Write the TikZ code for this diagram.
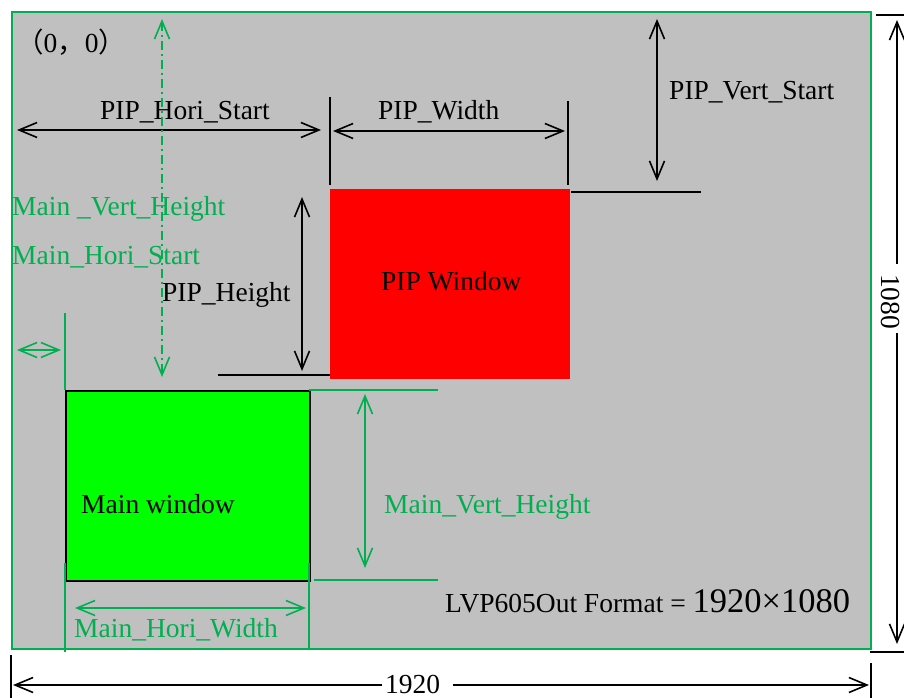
\documentclass[tikz,border=0pt]{standalone}
\usepackage{fontspec}
\setmainfont{Liberation Serif}
\newfontfamily\cjk{Noto Sans CJK SC}
\usetikzlibrary{arrows.meta}
\definecolor{gline}{HTML}{00B050}
\definecolor{bggray}{HTML}{C0C0C0}
\definecolor{mainfill}{HTML}{00FF00}
\begin{document}
\begin{tikzpicture}[x=1pt,y=-1pt,
  every node/.style={inner sep=0pt, font=\fontsize{27.5}{32}\selectfont},
  barb/.tip={Straight Barb[length=18pt,width=15pt]},
  ln/.style={line width=1.6pt, black},
  gl/.style={line width=1.6pt, gline},
  dimb/.style={ln, barb-barb},
  dimg/.style={gl, barb-barb},
  lbl/.style={anchor=base west, text=black},
  glbl/.style={anchor=base west, text=gline}]
\useasboundingbox (0,0) rectangle (904,698);
% background frame
\node (frame) [anchor=north west, minimum width=859pt, minimum height=637pt,
  fill=bggray, draw=gline, line width=1.8pt] at (11,11) {};
% windows
\node (pip) [anchor=north west, minimum width=240pt, minimum height=190pt, fill=red] at (330,189) {};
\draw[gl] (65,313) -- (65,390);
\node (main) [anchor=north west, minimum width=244pt, minimum height=190pt,
  fill=mainfill, draw=black, line width=1.6pt] at (65,390) {};
\draw[gl] (65,563) -- (65,652);
\draw[gl] (309,563) -- (309,648);
% texts in windows
\node (piptxt) [lbl] at (381,290) {PIP Window};
\node (maintxt) [lbl] at (81,513) {Main window};
% black extension lines
\coordinate (t1a) at (330,97);  \coordinate (t1b) at (330,185);
\coordinate (t2a) at (568,101); \coordinate (t2b) at (568,185);
\coordinate (t3a) at (571,192); \coordinate (t3b) at (701,192);
\coordinate (t4a) at (218,375); \coordinate (t4b) at (330,375);
\draw[ln] (t1a) -- (t1b);
\draw[ln] (t2a) -- (t2b);
\draw[ln] (t3a) -- (t3b);
\draw[ln] (t4a) -- (t4b);
% black dimension arrows
\coordinate (hs1) at (17,130);  \coordinate (hs2) at (321,130);
\coordinate (pw1) at (333,131); \coordinate (pw2) at (565,131);
\coordinate (vs1) at (657,19);  \coordinate (vs2) at (657,181);
\coordinate (ph1) at (302,197); \coordinate (ph2) at (302,371);
\draw[dimb] (hs1) -- (hs2);
\draw[dimb] (pw1) -- (pw2);
\draw[dimb] (vs1) -- (vs2);
\draw[dimb] (ph1) -- (ph2);
\node (hstxt) [lbl] at (100,119.5) {PIP\_Hori\_Start};
\node (pwtxt) [lbl] at (378,120) {PIP\_Width};
\node (vstxt) [lbl] at (669,99.5) {PIP\_Vert\_Start};
\node (phtxt) [lbl] at (162,301) {PIP\_Height};
\node (origin) [lbl] at (16,53) {{\cjk （}0{\cjk ，}0{\cjk ）}};
% green dimension elements
\coordinate (dd1) at (162,19);  \coordinate (dd2) at (162,377);
\draw[dimg, dash pattern=on 9pt off 4pt on 2pt off 4pt] (dd1) -- (dd2);
\coordinate (sm1) at (17,350);  \coordinate (sm2) at (61,350);
\draw[dimg] (sm1) -- (sm2);
\coordinate (g1a) at (309,390); \coordinate (g1b) at (438,390);
\coordinate (g2a) at (314,580); \coordinate (g2b) at (438,580);
\draw[gl] (g1a) -- (g1b);
\draw[gl] (g2a) -- (g2b);
\coordinate (mv1) at (365,394); \coordinate (mv2) at (365,568);
\coordinate (mw1) at (75,608);  \coordinate (mw2) at (306,608);
\draw[dimg] (mv1) -- (mv2);
\draw[dimg] (mw1) -- (mw2);
\node (mvh1) [glbl] at (12,215) {Main \_Vert\_Height};
\node (mhs) [glbl] at (12,264) {Main\_Hori\_Start};
\node (mvh2) [glbl] at (384,513) {Main\_Vert\_Height};
\node (mhw) [glbl] at (74,637) {Main\_Hori\_Width};
\node (fmt) [lbl] at (445,612) {LVP605Out Format = {\fontsize{34.5}{38}\selectfont 1920\texttimes1080}};
% outer dimensions
\draw[ln] (11,655) -- (11,698);
\draw[ln] (871,663) -- (871,698);
\draw[ln] (876,15) -- (904,15);
\draw[ln] (870,652) -- (904,652);
\node (w1920) [lbl] at (385,693) {1920};
\coordinate (wl) at (13,685); \coordinate (wr) at (869,685);
\draw[ln, barb-] (wl) -- (382,685);
\draw[ln, -barb] (453,685) -- (wr);
\node (h1080) [rotate=-90, anchor=base west] at (881,274) {1080};
\coordinate (ht) at (897,20); \coordinate (hb) at (897,644);
\draw[ln, barb-] (ht) -- (897,264);
\draw[ln, -barb] (897,333) -- (hb);
\end{tikzpicture}
\end{document}
